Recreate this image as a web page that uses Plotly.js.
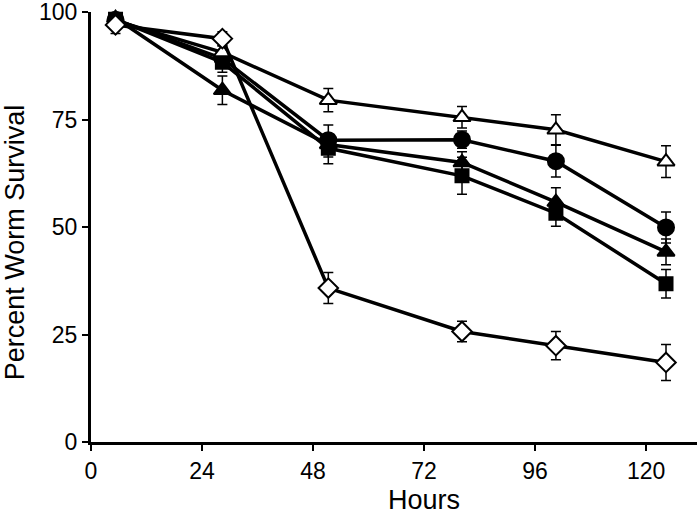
<!DOCTYPE html>
<html>
<head>
<meta charset="utf-8">
<script src="https://cdn.plot.ly/plotly-3.0.1.min.js"></script>
<style>html,body{margin:0;padding:0;background:#fff;}#chart{width:700px;height:514px;}</style>
</head>
<body>
<div id="chart"></div>
<script>
// Time points (hours)
const hours = [5.3, 28.4, 51.3, 80.2, 100.5, 124.3];

// Series: percent worm survival and error (SEM)
const openDiamond      = [97.0, 93.8, 35.8, 25.7, 22.4, 18.5];
const openDiamondErr   = [2.0, 1.6, 3.6, 2.4, 3.3, 4.2];

const openTriangle     = [98.0, 90.6, 79.5, 75.5, 72.6, 65.2];
const openTriangleErr  = [1.5, 1.5, 2.7, 2.5, 3.5, 3.7];

const filledCircle     = [98.2, 89.2, 70.2, 70.3, 65.3, 49.9];
const filledCircleErr  = [1.0, 1.5, 1.5, 2.0, 3.7, 3.6];

const filledTriangle   = [98.6, 81.8, 69.2, 65.0, 55.8, 44.2];
const filledTriangleErr= [1.0, 3.3, 4.5, 2.5, 3.3, 3.0];

const filledSquare     = [98.3, 88.3, 68.3, 61.9, 53.2, 36.8];
const filledSquareErr  = [1.0, 2.3, 2.0, 4.3, 3.0, 3.3];

const xTicks = [0, 24, 48, 72, 96, 120];
const yTicks = [0, 25, 50, 75, 100];

function series(y, err, symbol, fill, size) {
  return {
    x: hours, y: y, type: 'scatter', mode: 'lines+markers',
    cliponaxis: false,
    line: {color: '#000', width: 3.5},
    marker: {symbol: symbol, color: fill, size: size, line: {color: '#000', width: 2}},
    error_y: {type: 'data', array: err, visible: true, color: '#000', thickness: 1.5, width: 5},
    showlegend: false
  };
}

const data = [
  series(filledSquare, filledSquareErr, 'square', '#000', 13),
  series(filledTriangle, filledTriangleErr, 'triangle-up', '#000', 15),
  series(filledCircle, filledCircleErr, 'circle', '#000', 16),
  series(openTriangle, openTriangleErr, 'triangle-up', '#fff', 15),
  series(openDiamond, openDiamondErr, 'diamond', '#fff', 15)
];

const fam = 'Liberation Sans, Arial, sans-serif';
const tickFont = {family: fam, size: 23, color: '#000'};
const layout = {
  width: 700, height: 514,
  margin: {l: 91, r: 3, t: 12, b: 72},
  paper_bgcolor: '#fff', plot_bgcolor: '#fff',
  xaxis: {
    range: [0, 131], tickvals: xTicks, ticktext: xTicks.map(String),
    showline: true, linecolor: '#000', linewidth: 3, ticks: 'outside', ticklen: 6, tickwidth: 2, tickcolor: '#000',
    showgrid: false, zeroline: false, tickfont: tickFont, ticklabeloverflow: 'allow'
  },
  yaxis: {
    range: [0, 100], tickvals: yTicks, ticktext: yTicks.map(String),
    showline: true, linecolor: '#000', linewidth: 3, ticks: 'outside', ticklen: 6, tickwidth: 2, tickcolor: '#000',
    showgrid: false, zeroline: false, tickfont: tickFont, ticklabeloverflow: 'allow'
  },
  annotations: [
    {text: 'Hours', xref: 'paper', yref: 'paper', x: 0.549, y: -0.171, xanchor: 'center', yanchor: 'bottom',
     borderpad: 0, showarrow: false, font: {family: fam, size: 27, color: '#000'}},
    {text: 'Percent Worm Survival', xref: 'paper', yref: 'paper', x: -0.125, y: 0.465, xanchor: 'center', yanchor: 'middle',
     textangle: -90, showarrow: false, font: {family: fam, size: 27, color: '#000'}}
  ]
};

Plotly.newPlot('chart', data, layout, {displayModeBar: false, staticPlot: true});
</script>
</body>
</html>
